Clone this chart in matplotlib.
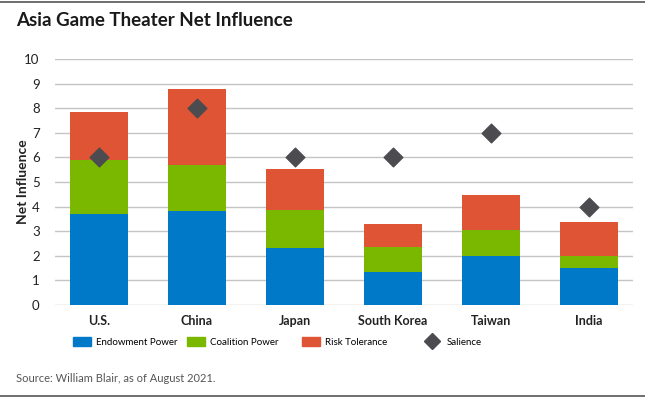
import matplotlib
matplotlib.use('Agg')
import matplotlib.pyplot as plt
from matplotlib.lines import Line2D
from matplotlib.patches import Patch
import numpy as np

# data
countries = ['U.S.', 'China', 'Japan', 'South Korea', 'Taiwan', 'India']
endowment = [3.70, 3.84, 2.30, 1.36, 2.00, 1.52]
coalition = [2.18, 1.85, 1.56, 0.99, 1.06, 0.48]
risk = [1.98, 3.09, 1.65, 0.96, 1.42, 1.37]
salience = [6, 8, 6, 6, 7, 4]
legend_labels = ['Endowment Power', 'Coalition Power', 'Risk Tolerance', 'Salience']

BLUE = '#0079C8'
GREEN = '#7AB800'
RED = '#DE5435'
DARK = '#4B4B50'

plt.rcParams['font.family'] = ['Lato', 'DejaVu Sans']

fig = plt.figure(figsize=(6.45, 3.98), dpi=100)
ax = fig.add_axes([55 / 645, 1 - 305 / 398, 578 / 645, 246 / 398])

x = np.arange(len(countries))
w = 0.59
e = np.array(endowment)
c = np.array(coalition)
r = np.array(risk)
ax.bar(x, e, w, color=BLUE, zorder=3)
ax.bar(x, c, w, bottom=e, color=GREEN, zorder=3)
ax.bar(x, r, w, bottom=e + c, color=RED, zorder=3)
ax.scatter(x, salience, marker='D', s=90, color=DARK, zorder=4)

ax.set_xlim(-0.45, 5.45)
ax.set_ylim(0, 10)
ax.set_yticks(range(0, 11))
ax.yaxis.grid(True, color='#C4C4C4', linewidth=1.0, zorder=0)
ax.set_axisbelow(True)
for s in ax.spines.values():
    s.set_visible(False)
ax.tick_params(axis='both', length=0)
ax.tick_params(axis='y', labelsize=9.5, pad=11, colors='#222222')
ax.set_xticks(x)
ax.set_xticklabels(countries, fontsize=9, fontweight='bold', color='#222222')
ax.tick_params(axis='x', pad=7)
ax.set_ylabel('Net Influence', fontsize=10, fontweight='bold', color='#222222')
ax.yaxis.set_label_coords((29 - 55) / 578, 0.5)

fig.text(16 / 645, 1 - 21 / 398, 'Asia Game Theater Net Influence', fontsize=13.5,
         fontweight='bold', color='#1A1A1A', va='center')
fig.text(16 / 645, 1 - 378 / 398, 'Source: William Blair, as of August 2021.',
         fontsize=8, color='#555555', va='center')

# legend entries placed one by one to match the reference spacing
handles = [Patch(color=BLUE), Patch(color=GREEN), Patch(color=RED),
           Line2D([], [], marker='D', color=DARK, linestyle='none', markersize=8)]
starts = [73, 187, 302, 423]
for h, lab, x0 in zip(handles, legend_labels, starts):
    fig.legend([h], [lab], loc='center left', bbox_to_anchor=(x0 / 645, 1 - 342 / 398),
               frameon=False, fontsize=7, handlelength=1.9, handleheight=1.0,
               handletextpad=0.5, borderpad=0, borderaxespad=0)

fig.add_artist(Line2D([0, 1], [1 - 1.5 / 398] * 2, color='#555555', linewidth=1.2))
fig.add_artist(Line2D([0, 1], [1 - 395.5 / 398] * 2, color='#555555', linewidth=1.2))

fig.savefig('out.png', dpi=100)
